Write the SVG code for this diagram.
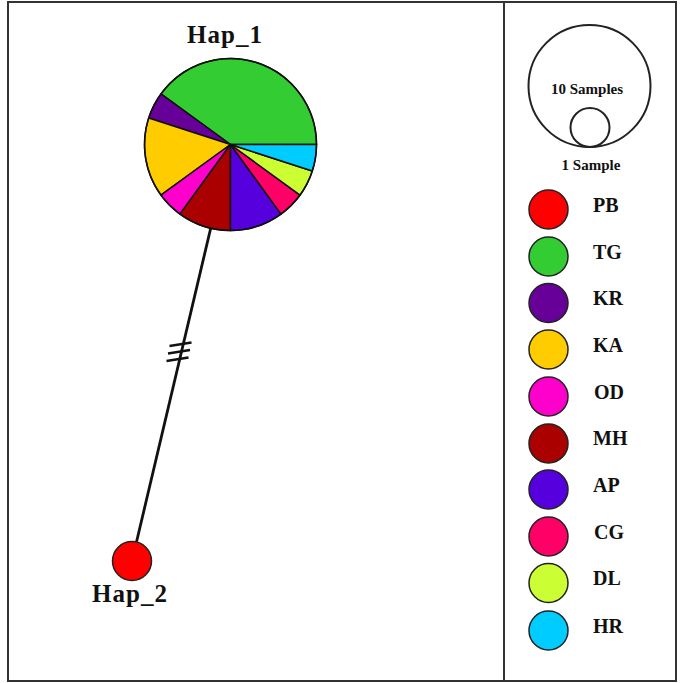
<svg xmlns="http://www.w3.org/2000/svg" width="685" height="683" viewBox="0 0 685 683">
<style>
.lbl{font-family:"Liberation Serif","Times New Roman",serif;font-weight:bold;fill:#111;}
.hap{font-size:25px;letter-spacing:1px;text-anchor:middle;}
.leg{font-size:20px;}
.smp{font-size:15px;text-anchor:middle;}
.sl{stroke:#111;stroke-width:1.5;stroke-linejoin:round;}
.dot{stroke:#222;stroke-width:1.5;}
</style>
<rect x="0" y="0" width="685" height="683" fill="#fff"/>
<g id="frame" fill="none" stroke="#333" stroke-width="2">
<rect x="8" y="2" width="668" height="679"/>
<line x1="504" y1="2" x2="504" y2="681"/>
</g>
<g id="connectors" stroke="#111" stroke-width="2.8" fill="none">
<line x1="230.5" y1="144.5" x2="132" y2="561"/>
<g stroke-width="2.4">
<line x1="169.5" y1="346" x2="191.5" y2="342.5"/>
<line x1="168" y1="353.5" x2="190" y2="350"/>
<line x1="166.5" y1="361" x2="188.5" y2="357.5"/>
</g>
</g>
<g id="hap1">
<path class="sl" fill="#33CC33" d="M230.5 144.5 L316.5 144.5 A86 86 0 0 0 160.92 93.95 Z"/>
<path class="sl" fill="#660099" d="M230.5 144.5 L160.92 93.95 A86 86 0 0 0 148.71 117.92 Z"/>
<path class="sl" fill="#FFCC00" d="M230.5 144.5 L148.71 117.92 A86 86 0 0 0 160.92 195.05 Z"/>
<path class="sl" fill="#FF00CC" d="M230.5 144.5 L160.92 195.05 A86 86 0 0 0 179.95 214.08 Z"/>
<path class="sl" fill="#AA0000" d="M230.5 144.5 L179.95 214.08 A86 86 0 0 0 230.5 230.5 Z"/>
<path class="sl" fill="#5500DD" d="M230.5 144.5 L230.5 230.5 A86 86 0 0 0 281.05 214.08 Z"/>
<path class="sl" fill="#FF0066" d="M230.5 144.5 L281.05 214.08 A86 86 0 0 0 300.08 195.05 Z"/>
<path class="sl" fill="#CCFF33" d="M230.5 144.5 L300.08 195.05 A86 86 0 0 0 312.29 171.08 Z"/>
<path class="sl" fill="#00CCFF" d="M230.5 144.5 L312.29 171.08 A86 86 0 0 0 316.5 144.5 Z"/>
<circle cx="230.5" cy="144.5" r="86" fill="none" stroke="#111" stroke-width="1.5"/>
<text class="lbl hap" x="225" y="43">Hap_1</text>
</g>
<g id="hap2">
<circle cx="132" cy="561" r="19.5" fill="#FF0000" stroke="#222" stroke-width="1.5"/>
<text class="lbl hap" x="130" y="602">Hap_2</text>
</g>
<g id="legend-size" fill="none" stroke="#222" stroke-width="2">
<circle cx="589.5" cy="86" r="61"/>
<circle cx="590" cy="127.5" r="19.5"/>
</g>
<g id="legend-size-text">
<text class="lbl smp" x="587" y="94">10 Samples</text>
<text class="lbl smp" x="591" y="170">1 Sample</text>
</g>
<g id="legend-PB"><circle class="dot" cx="548.5" cy="209.5" r="19.5" fill="#FF0000"/><text class="lbl leg" x="593" y="212">PB</text></g>
<g id="legend-TG"><circle class="dot" cx="548.5" cy="256.5" r="19.5" fill="#33CC33"/><text class="lbl leg" x="593" y="258.5">TG</text></g>
<g id="legend-KR"><circle class="dot" cx="548.5" cy="303" r="19.5" fill="#660099"/><text class="lbl leg" x="593" y="305">KR</text></g>
<g id="legend-KA"><circle class="dot" cx="548.5" cy="349.5" r="19.5" fill="#FFCC00"/><text class="lbl leg" x="593" y="351.5">KA</text></g>
<g id="legend-OD"><circle class="dot" cx="548.5" cy="396.5" r="19.5" fill="#FF00CC"/><text class="lbl leg" x="594" y="398.5">OD</text></g>
<g id="legend-MH"><circle class="dot" cx="548.5" cy="443.5" r="19.5" fill="#AA0000"/><text class="lbl leg" x="593" y="445">MH</text></g>
<g id="legend-AP"><circle class="dot" cx="548.5" cy="489.5" r="19.5" fill="#5500DD"/><text class="lbl leg" x="593" y="491.5">AP</text></g>
<g id="legend-CG"><circle class="dot" cx="548.5" cy="536.5" r="19.5" fill="#FF0066"/><text class="lbl leg" x="594" y="538.5">CG</text></g>
<g id="legend-DL"><circle class="dot" cx="548.5" cy="583" r="19.5" fill="#CCFF33"/><text class="lbl leg" x="593" y="585">DL</text></g>
<g id="legend-HR"><circle class="dot" cx="548.5" cy="630.5" r="19.5" fill="#00CCFF"/><text class="lbl leg" x="593" y="632.5">HR</text></g>
</svg>
